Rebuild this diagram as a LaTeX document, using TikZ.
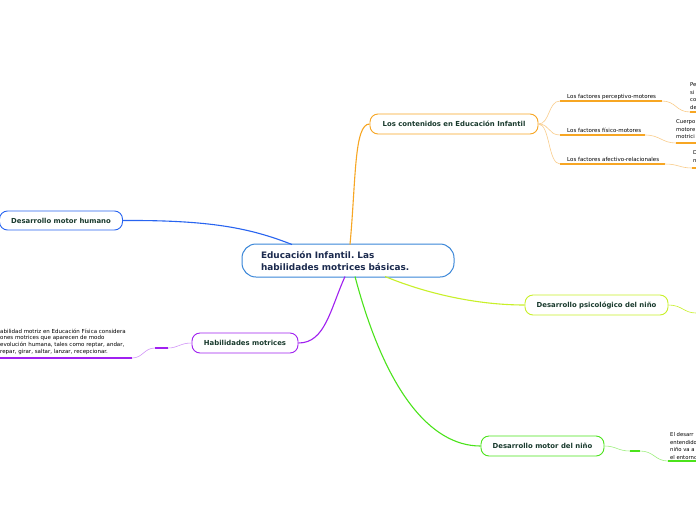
\documentclass[tikz,border=0pt]{standalone}
\usepackage{fontspec}
\setmainfont{DejaVu Sans}
\definecolor{cblue}{RGB}{58,134,216}
\definecolor{corange}{RGB}{247,166,35}
\definecolor{corangel}{RGB}{250,205,140}
\definecolor{cbl2}{RGB}{40,100,240}
\definecolor{cpurple}{RGB}{160,32,240}
\definecolor{cpurpl}{RGB}{210,150,248}
\definecolor{cyg}{RGB}{200,240,40}
\definecolor{cygl}{RGB}{225,248,140}
\definecolor{cgreen}{RGB}{75,227,27}
\definecolor{cgreenl}{RGB}{160,240,130}
\definecolor{ctxt}{RGB}{25,58,45}
\definecolor{cnavy}{RGB}{27,42,78}
\tikzset{
  x=1pt,y=-1pt,
  mainbox/.style={draw, fill=white, rounded corners=8pt, line width=0.9pt, inner sep=0pt,
    font=\fontsize{6.9}{7}\selectfont\bfseries, text=ctxt},
  small/.style={inner sep=0pt, font=\fontsize{5.5}{6}\selectfont, text=black},
  para/.style={inner sep=0pt, font=\fontsize{5.3}{7.6}\selectfont, text=black, align=left},
  branch/.style={line width=1.1pt},
  thin/.style={line width=0.6pt},
  uline/.style={line width=1.4pt}
}
\begin{document}
\frenchspacing
\begin{tikzpicture}
\clip (0,0) rectangle (696,520);
\fill[white] (0,0) rectangle (696,520);

% central node
\node[draw=cblue, fill=white, rounded corners=14pt, line width=1pt, minimum width=212pt, minimum height=33pt,
  text width=174pt, align=left, inner sep=0pt, font=\fontsize{8.9}{12}\selectfont\bfseries, text=cnavy]
  (c) at (348,260.5) {Educación Infantil. Las\\habilidades motrices básicas.};

% coordinates of branch starts on the central node
\coordinate (cO) at (350,244.5);
\coordinate (cB) at (292,244.5);
\coordinate (cP) at (345,276.5);
\coordinate (cY) at (385,276.5);
\coordinate (cG) at (355,276.5);

% main nodes
\node[mainbox, draw=corange, minimum width=168pt, minimum height=20pt] (cont) at (454,124) {Los contenidos en Educación Infantil};
\node[mainbox, draw=cbl2, minimum width=123pt, minimum height=19pt] (dmh) at (61,220.5) {Desarrollo motor humano};
\node[mainbox, draw=cpurple, minimum width=106pt, minimum height=20pt] (hab) at (245,343) {Habilidades motrices};
\node[mainbox, draw=cyg, minimum width=143pt, minimum height=20pt] (dps) at (596.5,305) {Desarrollo psicológico del niño};
\node[mainbox, draw=cgreen, minimum width=123pt, minimum height=20pt] (dmn) at (542.5,446) {Desarrollo motor del niño};

% main connectors
\draw[branch, corange] (cO) .. controls (356,180) and (354,124) .. (cont.west);
\draw[branch, cbl2] (dmh.east) .. controls (210,220) and (250,228) .. (cB);
\draw[branch, cpurple] (cP) .. controls (330,310) and (325,343) .. (hab.east);
\draw[branch, cyg] (cY) .. controls (430,295) and (480,305) .. (dps.west);
\draw[branch, cgreen] (cG) .. controls (385,390) and (430,446) .. (dmn.west);

% sub-branches of contenidos
\coordinate (p1) at (560,101); \coordinate (p2) at (662,101);
\coordinate (f1) at (560,135); \coordinate (f2) at (645,135);
\coordinate (a1) at (560,164); \coordinate (a2) at (665,164);
\draw[thin, corangel] (cont.east) .. controls (550,124) and (548,101) .. (p1);
\draw[thin, corangel] (cont.east) .. controls (550,124) and (548,135) .. (f1);
\draw[thin, corangel] (cont.east) .. controls (550,124) and (548,164) .. (a1);
\draw[uline, corange] (p1) -- (p2);
\draw[uline, corange] (f1) -- (f2);
\draw[uline, corange] (a1) -- (a2);
\node[small, anchor=base west] (tp) at (567,98) {Los factores perceptivo-motores};
\node[small, anchor=base west] (tf) at (567,132) {Los factores físico-motores};
\node[small, anchor=base west] (ta) at (567,161) {Los factores afectivo-relacionales};

% leaves of the sub-branches
\coordinate (p3) at (690,112); \coordinate (p4) at (696,112);
\coordinate (f3) at (676,143); \coordinate (f4) at (696,143);
\coordinate (a3) at (692,168); \coordinate (a4) at (696,168);
\draw[thin, corangel] (p2) .. controls (676,101) and (676,112) .. (p3);
\draw[uline, corange] (p3) -- (p4);
\draw[thin, corangel] (f2) .. controls (660,135) and (662,143) .. (f3);
\draw[uline, corange] (f3) -- (f4);
\draw[thin, corangel] (a2) .. controls (678,164) and (680,168) .. (a3);
\draw[uline, corange] (a3) -- (a4);
\node[para, anchor=north west] (lp) at (690,82.5) {Pe\\si\\co\\de};
\node[para, anchor=north west] (lf) at (676,119.5) {Cuerpo\\motore\\motrici};
\node[para, anchor=north west] (la) at (693,150.5) {D\\n};

% psicologico leaf
\coordinate (y1) at (696,313);
\draw[thin, cyg] (dps.east) .. controls (682,305) and (684,313) .. (y1);

% motor del nino leaf
\coordinate (g1) at (630,451); \coordinate (g2) at (640,451);
\coordinate (g3) at (668,461); \coordinate (g4) at (696,461);
\draw[thin, cgreenl] (dmn.east) .. controls (616,446) and (618,451) .. (g1);
\draw[uline, cgreen] (g1) -- (g2);
\draw[thin, cgreenl] (g2) .. controls (654,451) and (655,461) .. (g3);
\draw[uline, cgreen] (g3) -- (g4);
\node[para, anchor=north west] (lg) at (670,432.5) {El desarr\\entendido\\niño va a\\el entorno};

% habilidades leaf
\coordinate (h1) at (168,348); \coordinate (h2) at (155,348);
\coordinate (h3) at (132,358); \coordinate (h4) at (0,358);
\draw[thin, cpurpl] (hab.west) .. controls (180,343) and (178,348) .. (h1);
\draw[uline, cpurple] (h1) -- (h2);
\draw[thin, cpurpl] (h2) .. controls (144,348) and (143,358) .. (h3);
\draw[uline, cpurple] (h3) -- (h4);
\node[para, anchor=north west, font=\fontsize{5.5}{6.8}\selectfont] (lh) at (0,328.5) {abilidad motriz en Educación Física considera\\ones motrices que aparecen de modo\\evolución humana, tales como reptar, andar,\\repar, girar, saltar, lanzar, recepcionar.};
\end{tikzpicture}
\end{document}
